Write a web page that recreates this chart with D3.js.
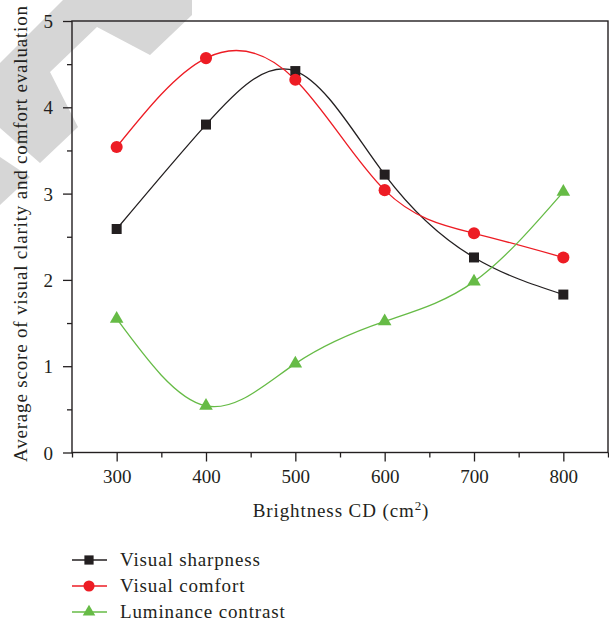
<!DOCTYPE html>
<html><head><meta charset="utf-8">
<script src="https://cdn.jsdelivr.net/npm/d3@7"></script>
<style>
body{margin:0;background:#fff;}
text{font-family:"Liberation Serif","Times New Roman",serif;fill:#231f20;}
</style></head>
<body><svg id="chart" width="609" height="625"></svg>
<script>
const brightness = [300, 400, 500, 600, 700, 800];
const visualSharpness = [2.59, 3.80, 4.42, 3.22, 2.26, 1.83];
const visualComfort = [3.54, 4.57, 4.32, 3.04, 2.54, 2.26];
const luminanceContrast = [1.55, 0.54, 1.03, 1.52, 1.98, 3.02];
const xTicks = [300, 400, 500, 600, 700, 800];
const xMinorTicks = [250, 350, 450, 550, 650, 750, 850];
const yTicks = [0, 1, 2, 3, 4, 5];
const yMinorTicks = [0.5, 1.5, 2.5, 3.5, 4.5];
const seriesNames = ["Visual sharpness", "Visual comfort", "Luminance contrast"];

const svg = d3.select("#chart");
const L = 72, R = 608, T = 21, B = 452.5;
const x = d3.scaleLinear().domain([250, 850]).range([L, R]);
const y = d3.scaleLinear().domain([0, 5]).range([B, T]);

// watermark
svg.append("g").attr("fill", "#d6d6d6")
  .selectAll("path")
  .data([
    "M63,0 L192,0 L192,15 L150,55 L97,27 L50,72 L78,127 L40,163 L0,128 L0,63 Z",
    "M0,157 L30,177 L0,205 Z"
  ])
  .join("path").attr("d", d => d);

const series = [
  {name: seriesNames[0], values: visualSharpness, color: "#231f20", shape: d3.symbolSquare, size: 100},
  {name: seriesNames[1], values: visualComfort, color: "#ed1c24", shape: d3.symbolCircle, size: 115},
  {name: seriesNames[2], values: luminanceContrast, color: "#66bb46", shape: d3.symbolTriangle, size: 80}
];

// axes
const ax = svg.append("g").attr("transform", `translate(0,${B})`)
  .call(d3.axisBottom(x).tickValues(xTicks).tickSize(9).tickPadding(8).tickFormat(d3.format("d")));
const axm = svg.append("g").attr("transform", `translate(0,${B})`)
  .call(d3.axisBottom(x).tickValues(xMinorTicks).tickSize(5).tickFormat(""));
const ay = svg.append("g").attr("transform", `translate(${L},0)`)
  .call(d3.axisLeft(y).tickValues(yTicks).tickSize(9).tickPadding(10).tickFormat(d3.format("d")));
const aym = svg.append("g").attr("transform", `translate(${L},0)`)
  .call(d3.axisLeft(y).tickValues(yMinorTicks).tickSize(5).tickFormat(""));
[ax, axm, ay, aym].forEach(g => {
  g.select(".domain").remove();
  g.selectAll("line").attr("stroke", "#231f20").attr("stroke-width", 1.3);
  g.selectAll("text").style("font-size", "19px").attr("fill", "#231f20");
});
ay.selectAll("text").attr("dy", "0.35em");

// frame
svg.append("rect").attr("x", L).attr("y", T).attr("width", R - L).attr("height", B - T)
  .attr("fill", "none").attr("stroke", "#231f20").attr("stroke-width", 1.4);

// lines
const line = d3.line().curve(d3.curveNatural)
  .x((d, i) => x(brightness[i])).y(d => y(d));
series.forEach(s => {
  svg.append("path").attr("d", line(s.values)).attr("fill", "none")
    .attr("stroke", s.color).attr("stroke-width", 1.3);
});
series.forEach(s => {
  svg.append("g").selectAll("path").data(s.values).join("path")
    .attr("d", d3.symbol().type(s.shape).size(s.size))
    .attr("transform", (d, i) => `translate(${x(brightness[i])},${y(d)})`)
    .attr("fill", s.color);
});

// axis labels
svg.append("text").attr("x", 341).attr("y", 517).attr("text-anchor", "middle")
  .style("font-size", "19px").style("letter-spacing", "0.9px")
  .html('Brightness CD (cm<tspan dy="-7" style="font-size:13px">2</tspan><tspan dy="7">)</tspan>');
svg.append("text").attr("transform", `translate(27,234) rotate(-90)`)
  .attr("text-anchor", "middle").style("font-size", "19px")
  .attr("textLength", 456).attr("lengthAdjust", "spacing")
  .text("Average score of visual clarity and comfort evaluation");

// legend
const leg = svg.append("g");
const legY = [560, 586, 612];
series.forEach((s, i) => {
  const g = leg.append("g").attr("transform", `translate(0,${legY[i]})`);
  g.append("line").attr("x1", 72).attr("x2", 107).attr("stroke", s.color).attr("stroke-width", 1.3);
  g.append("path").attr("d", d3.symbol().type(s.shape).size(s.size * 0.85)).attr("transform", "translate(89,0)").attr("fill", s.color);
  g.append("text").attr("x", 120).attr("y", 6).style("font-size", "19px").style("letter-spacing", "0.85px").text(s.name);
});
</script></body></html>
